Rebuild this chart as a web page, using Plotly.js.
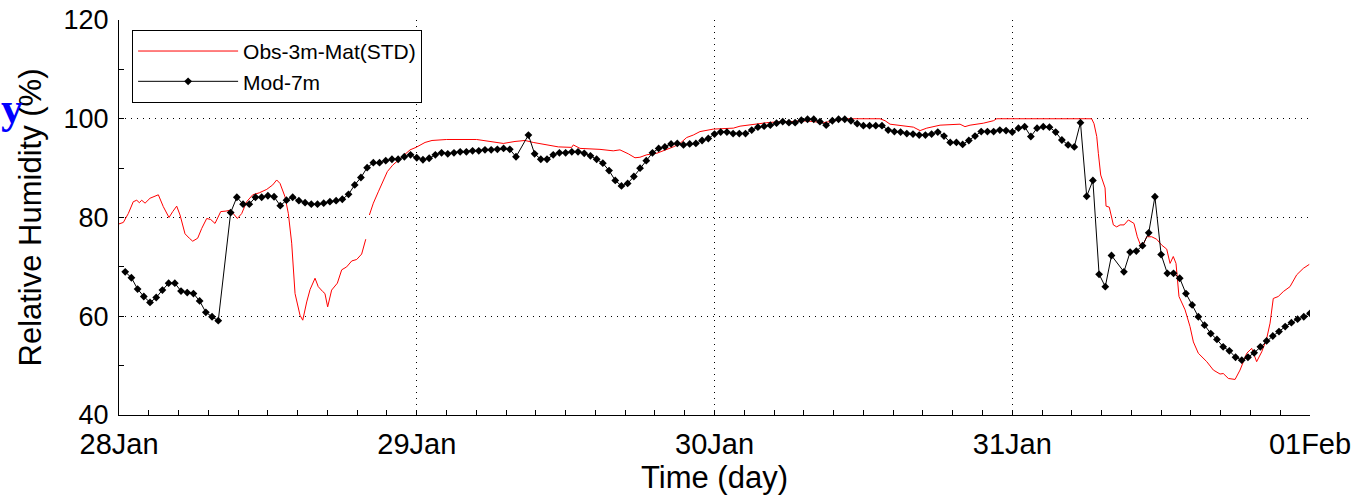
<!DOCTYPE html>
<html>
<head>
<meta charset="utf-8">
<script src="https://cdn.plot.ly/plotly-3.0.1.min.js"></script>
<style>
  html, body { margin: 0; padding: 0; background: #ffffff; }
  #chart { width: 1363px; height: 498px; }
</style>
</head>
<body>
<div id="chart"></div>
<script>
// ---------- data ----------
// Model (Mod-7m): half-hourly values, one array per day (null = no value drawn)
const modDay1 = [null, 69.0, 67.8, 65.5, 64.0, 62.8, 63.8, 65.3, 66.7, 66.7, 65.1, 64.8, 64.6, 63.1, 60.8, 59.9, 59.1, null, 81.0, 84.1, 82.7, 82.7, 84.1, 84.1, 84.4, 84.2, 82.4, 83.5, 84.1, 83.4, 83.0, 82.7, 82.7, 82.9, 83.2, 83.4, 83.7, 84.7, 86.6, 88.1, 90.1, 91.1, 91.1, 91.5, 91.8, 91.8, 92.3, 92.7];
const modDay2 = [92.1, 91.7, 92.0, 92.7, 93.1, 92.9, 93.1, 93.3, 93.3, 93.5, 93.5, 93.7, 93.7, 93.8, 94.0, 93.8, 92.3, null, 96.7, 92.9, 91.8, 91.8, 92.7, 93.1, 93.1, 93.3, 93.3, 93.0, 92.5, 91.8, 91.0, 89.5, 87.5, 86.4, 86.9, 88.3, 90.0, 91.5, 93.1, 94.0, 94.3, 94.9, 95.0, 94.7, 94.9, 95.0, 95.6, 96.0];
const modDay3 = [96.9, 97.3, 97.3, 97.0, 97.0, 97.0, 97.7, 98.3, 98.5, 98.7, 99.1, 99.4, 99.2, 99.2, 99.7, 99.9, 99.9, 99.4, 98.7, 99.6, 99.9, 99.9, 99.6, 99.0, 98.6, 98.6, 98.6, 98.6, 97.7, 97.4, 97.3, 97.0, 96.9, 96.7, 96.7, 96.9, 97.3, 96.5, 95.2, 95.2, 94.8, 95.6, 96.5, 97.4, 97.4, 97.4, 97.7, 97.6];
const modDay4 = [97.3, 98.1, 98.4, 96.4, 98.1, 98.4, 98.3, 97.3, 95.7, 94.7, 94.3, 99.2, 84.3, 87.5, 68.5, 66.0, 72.3, null, 69.0, 73.0, 73.2, 74.3, 76.9, 84.2, 72.5, 68.7, 68.7, 67.7, 64.6, 62.3, 59.9, 58.2, 56.5, 55.3, 53.8, 53.0, 51.7, 51.1, 51.7, 52.6, 53.8, 55.0, 56.0, 56.9, 57.9, 58.7, 59.4, 59.9, 60.6];

// Observation (Obs-3m-Mat(STD)): hours since 28 Jan 00:00 and relative humidity (%)
const obsHours = [0, 0.35, 0.75, 1.15, 1.43, 1.64, 1.83, 2.10, 2.50, 2.90, 3.17, 3.57, 4.03, 4.33, 4.65, 4.92, 5.32, 5.67, 5.94, 6.34, 6.67, 7.07, 7.39, 7.74, 8.20, 8.62, 9.00, 9.21, 9.54, 9.89, 10.29, 10.78, 11.31, 11.91, 12.39, 12.71, 12.98, 13.38, 13.65, 13.92, 14.19, 14.59, 14.81, 15.13, 15.40, 15.80, 16.06, 16.42, 16.60, 16.82, 17.14, 17.60, 17.95, 18.35, 18.76, 19.16, 19.56, 19.89, 19.95,
  20.18, 20.50, 20.90, 21.30, 21.63, 22.06, 22.51, 22.92, 23.46, 23.94, 24.67, 25.23, 26.41, 28.83, 29.90, 30.98, 31.92, 32.73, 33.39, 34.47, 35.41, 36.49, 36.62, 37.16, 38.77, 39.84, 40.38, 41.05, 41.59, 41.99, 42.54, 43.34, 44.15, 44.68, 45.22, 45.76, 46.29, 46.83, 47.90, 49.52, 50.06, 51.13, 52.21, 53.28, 54.09, 54.89, 55.70, 56.77, 57.58, 58.66, 61.34, 61.75, 62.15, 62.95, 64.03, 64.57, 65.11, 66.18, 67.25, 67.79, 68.19, 68.60, 69.67, 70.48, 70.75,
  78.40, 78.59, 78.81, 78.94, 79.13, 79.48, 79.56, 79.82, 80.15, 80.42, 80.69, 81.01, 81.36, 81.81, 82.08, 82.43, 82.84, 83.24, 83.64, 84.05, 84.45, 84.72, 84.98, 85.20, 85.44, 85.93, 86.33, 86.60, 87.00, 87.68, 88.21, 88.75, 89.01, 89.42, 89.96, 90.36, 90.90, 91.30, 91.70, 92.11, 92.51, 92.78, 93.04, 93.44, 93.85, 94.39, 94.93, 95.46, 95.94];
const obsRH = [78.7, 79.0, 80.8, 83.2, 83.5, 83.0, 83.5, 82.9, 83.9, 84.4, 84.6, 82.2, 80.0, 81.2, 82.3, 80.5, 76.7, 75.8, 75.2, 75.8, 77.8, 79.8, 79.6, 78.8, 81.2, 81.3, 81.5, 80.8, 79.8, 80.8, 83.2, 84.6, 85.0, 85.7, 86.6, 87.6, 86.9, 84.2, 80.8, 74.8, 64.6, 60.2, 59.2, 62.9, 65.4, 67.7, 66.0, 65.0, 64.6, 61.9, 65.3, 66.7, 69.4, 70.0, 71.2, 71.5, 72.6, 75.6, null,
  80.5, 82.9, 85.2, 87.6, 89.3, 90.6, 91.6, 92.7, 93.7, 94.2, 95.2, 95.6, 95.8, 95.8, 95.4, 95.0, 95.4, 95.6, 95.2, 94.7, 94.3, 94.2, 94.7, 94.0, 93.8, 93.5, 93.7, 92.9, 92.1, 92.2, 92.7, 93.0, 93.7, 94.3, 95.0, 96.2, 96.7, 97.4, 97.9, 98.1, 98.5, 98.9, 99.2, 99.4, 99.4, 99.6, 99.5, 99.2, 99.6, 100, 100, 99.6, 98.9, 98.7, 98.3, 97.6, 98.1, 98.7, 98.9, 98.9, 98.4, 98.7, 99.1, 99.6, 100,
  100, 99.0, 96.4, 93.0, 88.6, 86.0, 82.3, 82.1, 78.5, 78.1, 78.5, 78.5, 79.5, 78.8, 76.1, 73.8, 76.1, 76.1, 75.6, 74.4, 73.6, 70.7, 72.1, 70.7, 64.0, 61.3, 57.9, 54.8, 52.5, 50.8, 49.1, 48.3, 48.4, 47.4, 47.2, 49.1, 52.5, 53.5, 50.8, 52.8, 55.5, 58.6, 63.6, 64.0, 65.0, 66.0, 68.4, 69.7, 70.5];

const dayTicks = ['2013-01-28', '2013-01-29', '2013-01-30', '2013-01-31', '2013-02-01'];
const seriesNames = ['Obs-3m-Mat(STD)', 'Mod-7m'];

// ---------- build time stamps ----------
const t0 = Date.UTC(2013, 0, 28);
function stamp(ms) {
  const d = new Date(ms);
  const p = n => String(n).padStart(2, '0');
  return d.getUTCFullYear() + '-' + p(d.getUTCMonth() + 1) + '-' + p(d.getUTCDate()) + ' ' +
         p(d.getUTCHours()) + ':' + p(d.getUTCMinutes()) + ':' + p(d.getUTCSeconds());
}
const modRH = [].concat(modDay1, modDay2, modDay3, modDay4);
const modTime = modRH.map((v, i) => stamp(t0 + i * 1800000));
const obsTime = obsHours.map(h => stamp(t0 + Math.round(h * 3600000)));

const FONT = 'Liberation Sans, Arial, Helvetica, sans-serif';

const traces = [
  {
    type: 'scatter', mode: 'lines', name: seriesNames[0],
    x: obsTime, y: obsRH, connectgaps: false,
    line: { color: '#ff0000', width: 1 }
  },
  {
    type: 'scatter', mode: 'lines+markers', name: seriesNames[1],
    x: modTime, y: modRH, connectgaps: true,
    line: { color: '#000000', width: 1 },
    marker: { symbol: 'diamond', size: 6, color: '#000000' }
  }
];

const axisCommon = {
  showline: true, linecolor: '#000', linewidth: 1,
  ticks: 'inside', ticklen: 5, tickcolor: '#000', tickwidth: 1,
  showgrid: true, gridcolor: '#000', gridwidth: 1, griddash: '1px,5px',
  zeroline: false, mirror: false
};

const layout = {
  width: 1363, height: 498,
  paper_bgcolor: '#fff', plot_bgcolor: '#fff',
  margin: { l: 119, r: 53, t: 20, b: 83 },
  font: { family: FONT, color: '#000' },
  showlegend: true,
  legend: {
    x: 0.011, y: 0.975, xanchor: 'left', yanchor: 'top',
    bordercolor: '#000', borderwidth: 1, bgcolor: '#fff',
    font: { family: FONT, size: 21, color: '#000' },
    itemwidth: 100, tracegroupgap: 0
  },
  xaxis: Object.assign({}, axisCommon, {
    type: 'date',
    range: [dayTicks[0], dayTicks[dayTicks.length - 1]],
    tickvals: dayTicks, tickformat: '%d%b',
    ticklabelstandoff: 3,
    tickfont: { family: FONT, size: 29, color: '#000' },
    minor: { dtick: 8640000, tick0: dayTicks[0], ticks: 'inside', ticklen: 5, tickcolor: '#000', showgrid: false },
    title: { text: 'Time (day)', font: { family: FONT, size: 31, color: '#000' }, standoff: 2 }
  }),
  yaxis: Object.assign({}, axisCommon, {
    range: [40, 120], dtick: 20, tick0: 40,
    ticklabelstandoff: 4,
    tickfont: { family: FONT, size: 27, color: '#000' },
    minor: { dtick: 10, ticks: 'inside', ticklen: 5, tickcolor: '#000', showgrid: false },
    title: { text: 'Relative Humidity (%)', font: { family: FONT, size: 31, color: '#000' }, standoff: 12 }
  }),
  annotations: [
    {
      xref: 'paper', yref: 'paper', x: -0.101, y: 0.775, xanchor: 'left', yanchor: 'middle',
      text: '<b>y</b>', showarrow: false,
      font: { family: 'Liberation Serif, Times New Roman, serif', size: 44, color: '#0000ff' }
    }
  ]
};

Plotly.newPlot('chart', traces, layout, { displayModeBar: false, staticPlot: true });
</script>
</body>
</html>
